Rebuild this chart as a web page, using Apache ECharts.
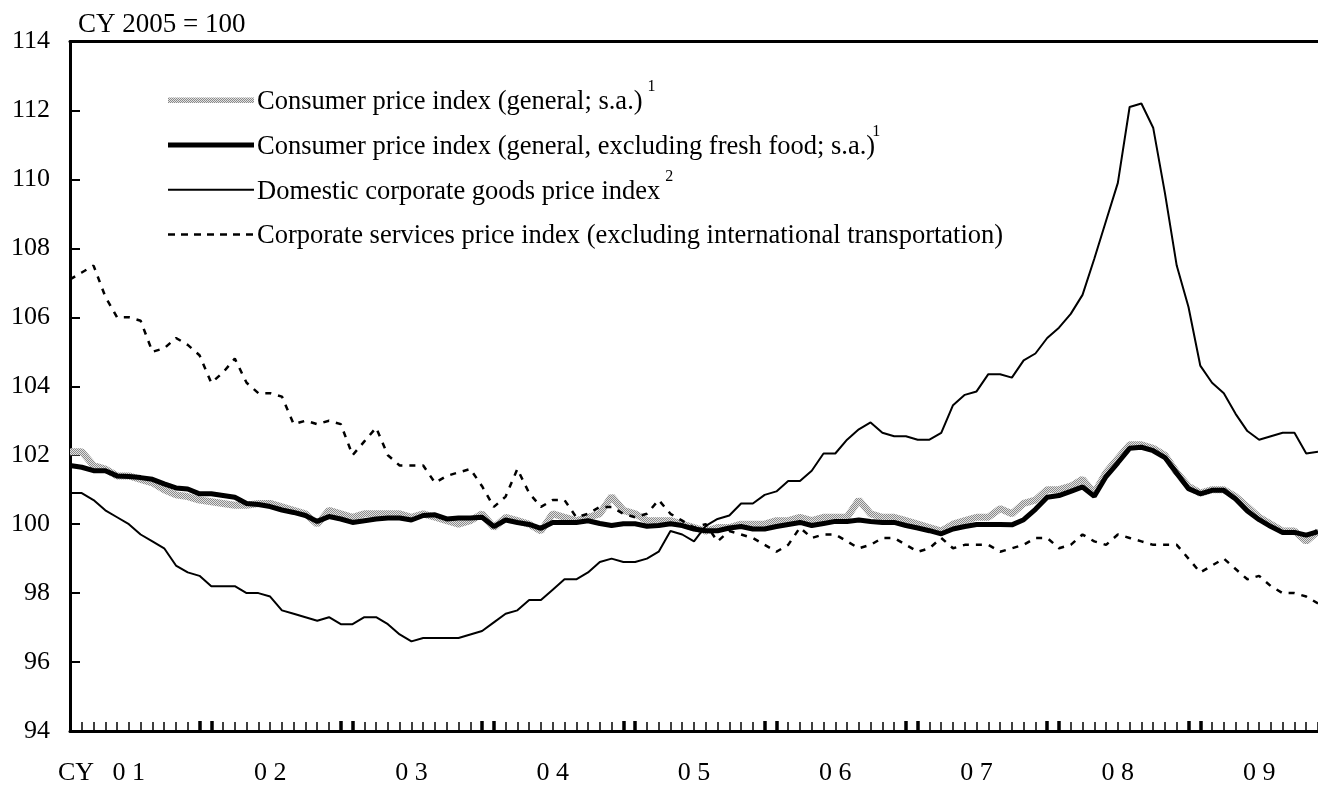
<!DOCTYPE html>
<html>
<head>
<meta charset="utf-8">
<script src="https://cdn.jsdelivr.net/npm/echarts@6/dist/echarts.min.js"></script>
<style>
  html, body { margin: 0; padding: 0; background: #fff; }
  #chart { width: 1318px; height: 785px; }
</style>
</head>
<body>
<div id="chart"></div>
<script>
// Monthly observations, CY2001/01 – CY2009/11 (CY 2005 = 100)
const yearLabels = ['0 1', '0 2', '0 3', '0 4', '0 5', '0 6', '0 7', '0 8', '0 9'];
const months = [];
for (let y = 2001; y <= 2009; y++) {
  for (let m = 1; m <= 12; m++) {
    if (y === 2009 && m > 11) break;
    months.push(y + '/' + (m < 10 ? '0' + m : m));
  }
}

// Consumer price index (general; s.a.)
const cpiGeneral = [
  102.1, 102.1, 101.7, 101.6, 101.4, 101.4, 101.3, 101.2, 101.0, 100.85,
  100.8, 100.7, 100.65, 100.6, 100.55, 100.55, 100.6, 100.6, 100.5, 100.4,
  100.3, 100.0, 100.4, 100.3, 100.2, 100.3, 100.3, 100.3, 100.3, 100.2,
  100.3, 100.2, 100.1, 100.0, 100.1, 100.3, 99.9, 100.2, 100.1, 100.0,
  99.8, 100.3, 100.2, 100.1, 100.2, 100.3, 100.8, 100.4, 100.3, 100.1,
  100.1, 100.1, 100.0, 99.9, 99.8, 99.9, 99.9, 100.0, 100.0, 100.0,
  100.1, 100.1, 100.2, 100.1, 100.2, 100.2, 100.2, 100.7, 100.3, 100.2,
  100.2, 100.1, 100.0, 99.9, 99.8, 100.0, 100.1, 100.2, 100.2, 100.45,
  100.3, 100.6, 100.7, 101.0, 101.0, 101.1, 101.3, 100.9, 101.5, 101.9,
  102.3, 102.3, 102.2, 102.0, 101.5, 101.1, 100.9, 101.0, 101.0, 100.8,
  100.5, 100.2, 100.0, 99.8, 99.8, 99.5, 99.8
];

// Consumer price index (general, excluding fresh food; s.a.)
const cpiCore = [
  101.7, 101.65, 101.55, 101.55, 101.4, 101.38, 101.35, 101.3, 101.17, 101.05,
  101.02, 100.88, 100.88, 100.83, 100.78, 100.6, 100.57, 100.51, 100.41, 100.34,
  100.25, 100.08, 100.22, 100.15, 100.05, 100.1, 100.15, 100.18, 100.18, 100.12,
  100.25, 100.27, 100.15, 100.18, 100.18, 100.2, 99.93, 100.12, 100.05, 99.99,
  99.88, 100.05, 100.05, 100.05, 100.1, 100.02, 99.96, 100.01, 100.01, 99.94,
  99.96, 100.01, 99.96, 99.86, 99.81, 99.81, 99.89, 99.93, 99.86, 99.86,
  99.93, 99.99, 100.05, 99.96, 100.02, 100.08, 100.08, 100.12, 100.08, 100.05,
  100.05, 99.96, 99.89, 99.81, 99.72, 99.86, 99.93, 99.99, 99.99, 99.99,
  99.98, 100.13, 100.43, 100.78, 100.83, 100.95, 101.08, 100.81, 101.38, 101.78,
  102.2, 102.23, 102.13, 101.93, 101.48, 101.03, 100.88, 100.98, 100.98, 100.73,
  100.38, 100.13, 99.93, 99.76, 99.76, 99.68, 99.78
];

// Domestic corporate goods price index
const cgpi = [
  100.9, 100.9, 100.7, 100.4, 100.2, 100.0, 99.7, 99.5, 99.3, 98.8,
  98.6, 98.5, 98.2, 98.2, 98.2, 98.0, 98.0, 97.9, 97.5, 97.4,
  97.3, 97.2, 97.3, 97.1, 97.1, 97.3, 97.3, 97.1, 96.8, 96.6,
  96.7, 96.7, 96.7, 96.7, 96.8, 96.9, 97.15, 97.4, 97.5, 97.8,
  97.8, 98.1, 98.4, 98.4, 98.6, 98.9, 99.0, 98.9, 98.9, 99.0,
  99.2, 99.8, 99.7, 99.5, 99.95, 100.15, 100.25, 100.6, 100.6, 100.85,
  100.95, 101.25, 101.25, 101.55, 102.05, 102.05, 102.45, 102.75, 102.95, 102.65,
  102.55, 102.55, 102.45, 102.45, 102.65, 103.45, 103.75, 103.85, 104.35, 104.35,
  104.25, 104.75, 104.95, 105.4, 105.7, 106.1, 106.65, 107.7, 108.8, 109.9,
  112.1, 112.2, 111.5, 109.6, 107.5, 106.3, 104.6, 104.1, 103.8, 103.2,
  102.7, 102.45, 102.55, 102.65, 102.65, 102.05, 102.1
];

// Corporate services price index (excluding international transportation)
const cspi = [
  107.1, 107.3, 107.5, 106.6, 106.0, 106.0, 105.9, 105.0, 105.1, 105.4,
  105.2, 104.9, 104.1, 104.4, 104.8, 104.1, 103.8, 103.8, 103.7, 102.9,
  103.0, 102.9, 103.0, 102.9, 102.0, 102.4, 102.8, 102.0, 101.7, 101.7,
  101.7, 101.2, 101.4, 101.5, 101.6, 101.1, 100.5, 100.8, 101.6, 100.9,
  100.5, 100.7, 100.7, 100.2, 100.3, 100.5, 100.5, 100.3, 100.2, 100.3,
  100.7, 100.3, 100.1, 99.9, 100.0, 99.5, 99.8, 99.7, 99.6, 99.4,
  99.2, 99.4, 99.9, 99.6, 99.7, 99.7, 99.5, 99.3, 99.4, 99.6,
  99.6, 99.4, 99.2, 99.3, 99.6, 99.3, 99.4, 99.4, 99.4, 99.2,
  99.3, 99.4, 99.6, 99.6, 99.3, 99.4, 99.7, 99.5, 99.4, 99.7,
  99.6, 99.5, 99.4, 99.4, 99.4, 99.0, 98.6, 98.8, 99.0, 98.7,
  98.4, 98.5, 98.2, 98.0, 98.0, 97.9, 97.7
];

const FONT = '"Liberation Serif", "Times New Roman", serif';
const FS = 26;      // axis labels
const FS_LEG = 26.5; // legend entries

// Stippled grey used for the headline CPI line
function stipple() {
  const c = document.createElement('canvas');
  c.width = 4; c.height = 4;
  const g = c.getContext('2d');
  g.fillStyle = '#e2e2e2';
  g.fillRect(0, 0, 4, 4);
  g.fillStyle = '#8a8a8a';
  for (let yy = 0; yy < 4; yy++) {
    for (let xx = 0; xx < 4; xx++) {
      if ((xx + yy) % 2 === 0) g.fillRect(xx, yy, 1, 1);
    }
  }
  return { image: c, repeat: 'repeat' };
}
const greyPattern = stipple();

// measure legend strings so superscripts follow their text
const mctx = document.createElement('canvas').getContext('2d');
mctx.font = FS_LEG + 'px ' + FONT;
const tw = s => mctx.measureText(s).width;

const legendRows = [
  { text: 'Consumer price index (general; s.a.)', sup: '1', supGap: 5, style: { stroke: greyPattern, lineWidth: 5.5 } },
  { text: 'Consumer price index (general, excluding fresh food; s.a.)', sup: '1', supGap: -3, style: { stroke: '#000', lineWidth: 5 } },
  { text: 'Domestic corporate goods price index', sup: '2', supGap: 5, style: { stroke: '#000', lineWidth: 2 } },
  { text: 'Corporate services price index (excluding international transportation)', sup: '', supGap: 0, style: { stroke: '#000', lineWidth: 2.5, lineDash: [7, 6] } }
];
const legendX0 = 168, legendX1 = 254, legendTextX = 257, legendY0 = 100.2, legendStep = 44.75;

const graphics = [];
legendRows.forEach((r, k) => {
  const y = legendY0 + k * legendStep;
  graphics.push({
    type: 'line', silent: true,
    shape: { x1: legendX0, y1: y, x2: legendX1, y2: y },
    style: Object.assign({ lineCap: 'butt' }, r.style)
  });
  graphics.push({
    type: 'text', silent: true, x: legendTextX, y: y + 2,
    style: { text: r.text, font: FS_LEG + 'px ' + FONT, fill: '#000', verticalAlign: 'middle' }
  });
  if (r.sup) {
    graphics.push({
      type: 'text', silent: true, x: legendTextX + tw(r.text) + r.supGap, y: y - 13,
      style: { text: r.sup, font: '16px ' + FONT, fill: '#000', verticalAlign: 'middle' }
    });
  }
});
graphics.push({
  type: 'text', silent: true, x: 78, y: 25,
  style: { text: 'CY 2005 = 100', font: '27px ' + FONT, fill: '#000', verticalAlign: 'middle' }
});
graphics.push({
  type: 'text', silent: true, x: 58, y: 773,
  style: { text: 'CY', font: FS + 'px ' + FONT, fill: '#000', verticalAlign: 'middle' }
});

const chart = echarts.init(document.getElementById('chart'), null, { renderer: 'canvas' });
chart.setOption({
  animation: false,
  backgroundColor: '#fff',
  grid: { left: 70, right: 0, top: 41.5, bottom: 54, outerBoundsMode: 'none', containLabel: false },
  xAxis: [
    {
      type: 'category', data: months, boundaryGap: false, position: 'bottom',
      axisLine: { show: true, onZero: false, lineStyle: { color: '#000', width: 3 } },
      axisTick: { show: true, inside: true, length: 9, interval: 0, lineStyle: { color: '#000', width: 1.5 } },
      axisLabel: {
        show: true, interval: i => i % 12 === 5, margin: 29,
        formatter: (v, i) => yearLabels[Math.floor(i / 12)],
        fontSize: FS, fontFamily: FONT, color: '#000'
      },
      splitLine: { show: false }
    },
    {
      // heavier ticks marking each turn of the year
      type: 'category', data: months, boundaryGap: false, position: 'bottom',
      axisLine: { show: false },
      axisTick: { show: true, inside: true, length: 10, interval: i => i > 0 && (i % 12 === 11 || i % 12 === 0), lineStyle: { color: '#000', width: 3.5 } },
      axisLabel: { show: false },
      splitLine: { show: false }
    },
    {
      type: 'category', data: months, boundaryGap: false, position: 'top',
      axisLine: { show: true, onZero: false, lineStyle: { color: '#000', width: 3 } },
      axisTick: { show: false }, axisLabel: { show: false }, splitLine: { show: false }
    }
  ],
  yAxis: {
    type: 'value', min: 94, max: 114, interval: 2,
    axisLine: { show: true, onZero: false, lineStyle: { color: '#000', width: 3 } },
    axisTick: { show: true, inside: true, length: 10, lineStyle: { color: '#000', width: 2 } },
    axisLabel: { fontSize: FS, fontFamily: FONT, color: '#000', margin: 20 },
    splitLine: { show: false }
  },
  series: [
    {
      name: 'Consumer price index (general; s.a.)', type: 'line', data: cpiGeneral,
      showSymbol: false, silent: true, z: 1,
      lineStyle: { color: greyPattern, width: 7 }
    },
    {
      name: 'Consumer price index (general, excluding fresh food; s.a.)', type: 'line', data: cpiCore,
      showSymbol: false, silent: true, z: 2,
      lineStyle: { color: '#000', width: 5 }
    },
    {
      name: 'Domestic corporate goods price index', type: 'line', data: cgpi,
      showSymbol: false, silent: true, z: 3,
      lineStyle: { color: '#000', width: 2 }
    },
    {
      name: 'Corporate services price index (excluding international transportation)', type: 'line', data: cspi,
      showSymbol: false, silent: true, z: 3,
      lineStyle: { color: '#000', width: 2.5, type: [6, 7] }
    }
  ],
  graphic: graphics
});
</script>
</body>
</html>
